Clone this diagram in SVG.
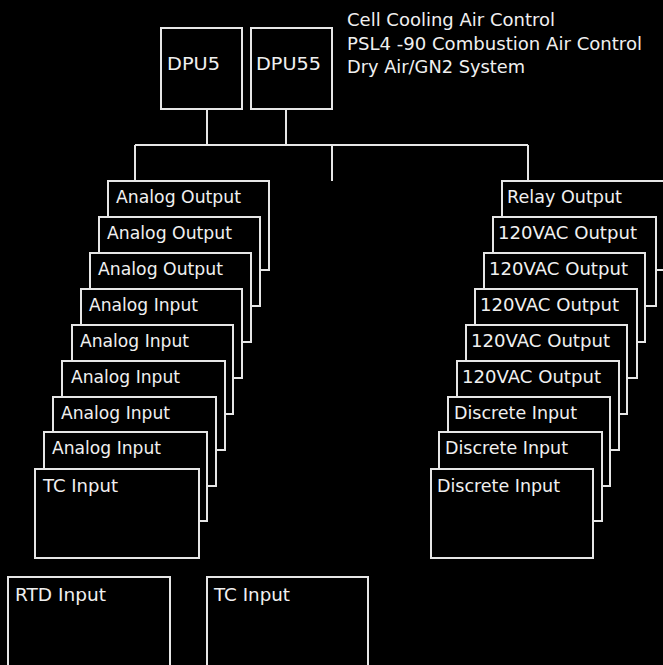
<svg xmlns="http://www.w3.org/2000/svg" width="663" height="665" viewBox="0 0 663 665">
<style>
.bx{fill:#000;stroke:#e6e6e6;stroke-width:2}
.ln{fill:none;stroke:#e6e6e6;stroke-width:2}
.t{font-family:"DejaVu Sans","Liberation Sans",sans-serif;font-size:17px;fill:#f0f0f0}
</style>
<rect width="663" height="665" fill="#000"/>
<g id="title">
<text class="t" x="347" y="26" textLength="208" lengthAdjust="spacingAndGlyphs">Cell Cooling Air Control</text>
<text class="t" x="347" y="50" textLength="295" lengthAdjust="spacingAndGlyphs">PSL4 -90 Combustion Air Control</text>
<text class="t" x="347" y="73" textLength="178" lengthAdjust="spacingAndGlyphs">Dry Air/GN2 System</text>
</g>
<g id="connectors">
<path class="ln" d="M207 109V145M286 109V145M135 145H528M135 145V181M332 145V181M528 145V181"/>
</g>
<g id="dpu5"><rect class="bx" x="161" y="28" width="81" height="81"/><text class="t" x="167" y="70" textLength="53" lengthAdjust="spacingAndGlyphs">DPU5</text></g>
<g id="dpu55"><rect class="bx" x="251" y="28" width="81" height="81"/><text class="t" x="256" y="70" textLength="65" lengthAdjust="spacingAndGlyphs">DPU55</text></g>
<g id="left-1"><rect class="bx" x="108" y="181" width="161" height="89"/><text class="t" x="116" y="203" textLength="125" lengthAdjust="spacingAndGlyphs">Analog Output</text></g>
<g id="left-2"><rect class="bx" x="99" y="217" width="161" height="89"/><text class="t" x="107" y="239" textLength="125" lengthAdjust="spacingAndGlyphs">Analog Output</text></g>
<g id="left-3"><rect class="bx" x="90" y="253" width="161" height="89"/><text class="t" x="98" y="275" textLength="125" lengthAdjust="spacingAndGlyphs">Analog Output</text></g>
<g id="left-4"><rect class="bx" x="81" y="289" width="161" height="89"/><text class="t" x="89" y="311" textLength="109" lengthAdjust="spacingAndGlyphs">Analog Input</text></g>
<g id="left-5"><rect class="bx" x="72" y="325" width="161" height="89"/><text class="t" x="80" y="347" textLength="109" lengthAdjust="spacingAndGlyphs">Analog Input</text></g>
<g id="left-6"><rect class="bx" x="62" y="361" width="163" height="89"/><text class="t" x="71" y="383" textLength="109" lengthAdjust="spacingAndGlyphs">Analog Input</text></g>
<g id="left-7"><rect class="bx" x="53" y="397" width="163" height="89"/><text class="t" x="61" y="419" textLength="109" lengthAdjust="spacingAndGlyphs">Analog Input</text></g>
<g id="left-8"><rect class="bx" x="44" y="432" width="163" height="89"/><text class="t" x="52" y="454" textLength="109" lengthAdjust="spacingAndGlyphs">Analog Input</text></g>
<g id="left-9"><rect class="bx" x="35" y="469" width="164" height="89"/><text class="t" x="43" y="492" textLength="75" lengthAdjust="spacingAndGlyphs">TC Input</text></g>
<g id="right-1"><rect class="bx" x="502" y="181" width="162" height="89"/><text class="t" x="507" y="203" textLength="115" lengthAdjust="spacingAndGlyphs">Relay Output</text></g>
<g id="right-2"><rect class="bx" x="493" y="217" width="163" height="89"/><text class="t" x="498" y="239" textLength="139" lengthAdjust="spacingAndGlyphs">120VAC Output</text></g>
<g id="right-3"><rect class="bx" x="484" y="253" width="161" height="89"/><text class="t" x="489" y="275" textLength="139" lengthAdjust="spacingAndGlyphs">120VAC Output</text></g>
<g id="right-4"><rect class="bx" x="475" y="289" width="162" height="89"/><text class="t" x="480" y="311" textLength="139" lengthAdjust="spacingAndGlyphs">120VAC Output</text></g>
<g id="right-5"><rect class="bx" x="466" y="325" width="161" height="89"/><text class="t" x="471" y="347" textLength="139" lengthAdjust="spacingAndGlyphs">120VAC Output</text></g>
<g id="right-6"><rect class="bx" x="457" y="361" width="162" height="89"/><text class="t" x="462" y="383" textLength="139" lengthAdjust="spacingAndGlyphs">120VAC Output</text></g>
<g id="right-7"><rect class="bx" x="448" y="397" width="162" height="89"/><text class="t" x="454" y="419" textLength="123" lengthAdjust="spacingAndGlyphs">Discrete Input</text></g>
<g id="right-8"><rect class="bx" x="439" y="432" width="163" height="89"/><text class="t" x="445" y="454" textLength="123" lengthAdjust="spacingAndGlyphs">Discrete Input</text></g>
<g id="right-9"><rect class="bx" x="431" y="469" width="162" height="89"/><text class="t" x="437" y="492" textLength="123" lengthAdjust="spacingAndGlyphs">Discrete Input</text></g>
<g id="rtd-input"><rect class="bx" x="8" y="577" width="162" height="100"/><text class="t" x="15" y="601" textLength="91" lengthAdjust="spacingAndGlyphs">RTD Input</text></g>
<g id="tc-input-2"><rect class="bx" x="207" y="577" width="161" height="100"/><text class="t" x="214" y="601" textLength="76" lengthAdjust="spacingAndGlyphs">TC Input</text></g>
</svg>
